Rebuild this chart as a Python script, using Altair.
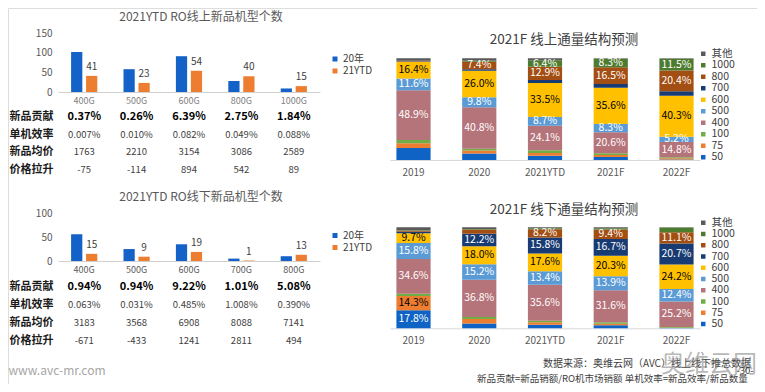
import altair as alt
import pandas as pd

FONT = "Noto Sans CJK SC"
W, H = 749, 376

# ---------------- data: left panels ----------------
series_names = ["20年", "21YTD"]
series_colors = ["#1462C8", "#ED7D31"]
table_rows = ["新品贡献", "单机效率", "新品均价", "价格拉升"]

online_title_left = "2021YTD RO线上新品机型个数"
online_models = ["400G", "500G", "600G", "800G", "1000G"]
online_count_20 = [102, 58, 91, 28, 9]
online_count_21 = [41, 23, 54, 40, 15]
online_contrib = ["0.37%", "0.26%", "6.39%", "2.75%", "1.84%"]
online_eff = ["0.007%", "0.010%", "0.082%", "0.049%", "0.088%"]
online_price = ["1763", "2210", "3154", "3086", "2589"]
online_lift = ["-75", "-114", "894", "542", "89"]

offline_title_left = "2021YTD RO线下新品机型个数"
offline_models = ["400G", "500G", "600G", "700G", "800G"]
offline_count_20 = [56, 25, 35, 5, 10]
offline_count_21 = [15, 9, 19, 1, 13]
offline_contrib = ["0.94%", "0.94%", "9.22%", "1.01%", "5.08%"]
offline_eff = ["0.063%", "0.031%", "0.485%", "1.008%", "0.390%"]
offline_price = ["3183", "3568", "6908", "8088", "7141"]
offline_lift = ["-671", "-433", "1241", "2811", "494"]

# ---------------- data: right panels ----------------
online_title_right = "2021F  线上通量结构预测"
offline_title_right = "2021F  线下通量结构预测"
years = ["2019", "2020", "2021YTD", "2021F", "2022F"]
segments = ["50", "75", "100", "400", "500", "600", "700", "800", "1000", "其他"]
segment_colors = ["#0E63C4", "#ED7D31", "#70AD47", "#B5737A", "#5B9BD5",
                  "#FFC000", "#173B72", "#A34E12", "#4E7C2F", "#595959"]

on_50 = [11.8, 6.5, 4.3, 3.0, 0.4]
on_75 = [4.6, 2.8, 2.7, 1.8, 1.2]
on_100 = [3.3, 1.8, 2.5, 1.8, 1.2]
on_400 = [48.9, 40.8, 24.1, 20.6, 14.8]
on_500 = [11.6, 9.8, 8.7, 8.3, 5.2]
on_600 = [16.4, 26.0, 33.5, 35.6, 40.3]
on_700 = [0.5, 1.6, 2.9, 3.6, 4.5]
on_800 = [0.5, 7.4, 12.9, 16.5, 20.4]
on_1000 = [0.0, 1.0, 6.4, 8.3, 11.5]
on_other = [2.4, 2.3, 2.0, 0.5, 0.5]

off_50 = [17.8, 4.8, 3.5, 3.0, 0.3]
off_75 = [14.3, 4.5, 2.5, 1.5, 0.3]
off_100 = [2.0, 2.0, 1.5, 1.5, 0.8]
off_400 = [34.6, 36.8, 35.6, 31.6, 25.2]
off_500 = [15.8, 15.2, 13.4, 13.9, 12.4]
off_600 = [9.7, 18.0, 17.6, 20.3, 24.2]
off_700 = [1.5, 12.2, 15.8, 16.7, 20.7]
off_800 = [0.8, 4.3, 8.2, 9.4, 11.1]
off_1000 = [0.5, 0.5, 0.9, 1.1, 4.8]
off_other = [3.0, 1.7, 1.0, 1.0, 0.2]

online_labelled = ["400", "500", "600", "700", "800", "1000"]
offline_labelled = segments
dark_text_segments = ["600", "75"]

footer_site = "www.avc-mr.com"
footer_source = "数据来源：奥维云网（AVC）线上线下推总数据"
footer_note = "新品贡献=新品销额/RO机市场销额   单机效率=新品效率/新品数量"
footer_page = "-30-"
footer_mark = "奥维云网"


def text_layer(txt, x, y, size, color, align="center", weight="normal", opacity=1.0,
               baseline="middle"):
    return alt.Chart(pd.DataFrame({"t": [txt]})).mark_text(
        align=align, baseline=baseline, fontSize=size, color=color,
        font=FONT, fontWeight=weight, opacity=opacity
    ).encode(x=alt.value(x), y=alt.value(y), text="t:N")


def bar_panel(models, v20, v21, x_rng, y_dom, y_rng, y_ticks, xlab_color, legend_y):
    n = len(models)
    df = pd.DataFrame({"model": models * 2,
                       "series": [series_names[0]] * n + [series_names[1]] * n,
                       "count": v20 + v21})
    xs = alt.Scale(type="band", domain=models, range=x_rng, paddingInner=0.5, paddingOuter=0.25)
    ys = alt.Scale(domain=y_dom, range=y_rng)
    os_ = alt.Scale(type="band", domain=series_names, paddingInner=0.25)
    cs = alt.Scale(domain=series_names, range=series_colors)
    bars = alt.Chart(df).mark_bar().encode(
        x=alt.X("model:N", scale=xs, title=None,
                axis=alt.Axis(orient="bottom", offset=y_rng[0] - H, domainColor="#D0D0D0",
                              ticks=False, labelPadding=4, labelFontSize=9, labelAngle=0,
                              labelColor=xlab_color, labelFont=FONT, grid=False)),
        xOffset=alt.XOffset("series:N", scale=os_),
        y=alt.Y("count:Q", scale=ys, title=None,
                axis=alt.Axis(orient="left", offset=-x_rng[0], values=y_ticks, domain=False,
                              ticks=False, grid=False, labelPadding=6, labelFontSize=10,
                              labelColor="#595959", labelFont=FONT)),
        color=alt.Color("series:N", scale=cs, title=None,
                        legend=alt.Legend(orient="none", legendX=322, legendY=legend_y,
                                          symbolType="square", symbolSize=25,
                                          symbolStrokeWidth=0, labelFontSize=10,
                                          labelColor="#404040", labelFont=FONT,
                                          rowPadding=2, labelOffset=3)),
    )
    labels = alt.Chart(df).transform_filter(
        alt.datum.series == series_names[1]
    ).mark_text(dy=-9, fontSize=10, color="#404040", font=FONT).encode(
        x=alt.X("model:N", scale=xs, axis=None),
        xOffset=alt.XOffset("series:N", scale=os_),
        y=alt.Y("count:Q", scale=ys, axis=None),
        text="count:Q",
    )
    return [bars, labels], xs


def table_panel(models, xs, x_left, rows_vals, y_rng):
    recs = []
    for r, vals in zip(table_rows, rows_vals):
        for m, v in zip(models, vals):
            recs.append({"model": m, "row": r, "val": v})
    df = pd.DataFrame(recs)
    ts = alt.Scale(type="band", domain=table_rows, range=y_rng, paddingInner=0, paddingOuter=0)
    head = alt.Chart(df).transform_filter(alt.datum.row == table_rows[0]).mark_text(
        fontSize=11, fontWeight="bold", color="#000000", font=FONT
    ).encode(
        x=alt.X("model:N", scale=xs, axis=None),
        y=alt.Y("row:N", scale=ts, title=None,
                axis=alt.Axis(orient="left", offset=-x_left, domain=False, ticks=False,
                              grid=False, labelPadding=5, labelFontSize=11,
                              labelFontWeight="bold", labelColor="#1A1A1A", labelFont=FONT)),
        text="val:N",
    )
    rest = alt.Chart(df).transform_filter(alt.datum.row != table_rows[0]).mark_text(
        fontSize=9.5, color="#404040", font=FONT
    ).encode(
        x=alt.X("model:N", scale=xs, axis=None),
        y=alt.Y("row:N", scale=ts, axis=None),
        text="val:N",
    )
    return [head, rest]


def stack_panel(cols, labelled, x_rng, y_rng, legend_y, row_pad):
    recs = []
    for k, seg in enumerate(segments):
        for yi, yr in enumerate(years):
            v = cols[k][yi]
            show = seg in labelled and v >= 5
            recs.append({"year": yr, "seg": seg, "val": v, "ord": k,
                         "label": f"{v:.1f}%" if show else "",
                         "dark": seg in dark_text_segments})
    df = pd.DataFrame(recs)
    xs = alt.Scale(type="band", domain=years, range=x_rng, paddingInner=0.48, paddingOuter=0.0975)
    ys = alt.Scale(domain=[0, 100], range=y_rng)
    cs = alt.Scale(domain=segments[::-1], range=segment_colors[::-1])
    bars = alt.Chart(df).mark_bar().encode(
        x=alt.X("year:N", scale=xs, title=None,
                axis=alt.Axis(orient="bottom", offset=y_rng[0] - H, domainColor="#D9D9D9",
                              ticks=False, labelPadding=7, labelFontSize=10, labelAngle=0,
                              labelColor="#595959", labelFont=FONT, grid=False)),
        y=alt.Y("val:Q", scale=ys, stack="zero", axis=None),
        color=alt.Color("seg:N", scale=cs, title=None,
                        legend=alt.Legend(orient="none", legendX=690, legendY=legend_y,
                                          symbolType="square", symbolSize=20,
                                          symbolStrokeWidth=0, labelFontSize=10.5,
                                          labelColor="#404040", labelFont=FONT,
                                          rowPadding=row_pad, labelOffset=3)),
        order=alt.Order("ord:Q", sort="ascending"),
    )
    base = alt.Chart(df).transform_stack(
        stack="val", groupby=["year"], sort=[alt.SortField(field="ord", order="ascending")],
        as_=["v0", "v1"]
    ).transform_calculate(mid="(datum.v0 + datum.v1) / 2").transform_filter(
        "datum.label != ''"
    )
    enc = dict(x=alt.X("year:N", scale=xs, axis=None, bandPosition=0.5),
               y=alt.Y("mid:Q", scale=ys, axis=None),
               text="label:N")
    light = base.transform_filter("!datum.dark").mark_text(
        fontSize=10.5, font=FONT, color="#FFFFFF", align="center").encode(**enc)
    dark = base.transform_filter("datum.dark").mark_text(
        fontSize=10.5, font=FONT, color="#000000", align="center").encode(**enc)
    return [bars], [light, dark]


layers = []
late = []

# left top
l1, xs1 = bar_panel(online_models, online_count_20, online_count_21,
                    [50, 312], [0, 150], [84, 25], [0, 50, 100, 150], "#808080", 46)
layers += l1
layers += table_panel(online_models, xs1, 50,
                      [online_contrib, online_eff, online_price, online_lift], [100, 171])
layers.append(text_layer(online_title_left, 193, 8.5, 12, "#595959"))

# left bottom
l2, xs2 = bar_panel(offline_models, offline_count_20, offline_count_21,
                    [50, 312], [0, 100], [253, 205.2], [0, 50, 100], "#595959", 222.5)
layers += l2
layers += table_panel(offline_models, xs2, 50,
                      [offline_contrib, offline_eff, offline_price, offline_lift], [269.6, 342.1])
layers.append(text_layer(offline_title_left, 193, 189, 12, "#595959"))

# right top
b, t = stack_panel([on_50, on_75, on_100, on_400, on_500, on_600, on_700, on_800, on_1000, on_other],
                   online_labelled, [382, 692], [152, 50.3], 40.5, 0.5)
layers += b
late += t
layers.append(text_layer(online_title_right, 556, 32, 13.5, "#404040"))

# right bottom
b, t = stack_panel([off_50, off_75, off_100, off_400, off_500, off_600, off_700, off_800, off_1000, off_other],
                   offline_labelled, [382, 692], [320.3, 219.3], 209.5, 0.25)
layers += b
late += t
layers.append(text_layer(offline_title_right, 556, 202, 13.5, "#404040"))

# footer
layers.append(text_layer(footer_site, 0.5, 362.7, 12, "#A6A6A6", align="left"))
layers.append(text_layer(footer_source, 535, 356, 10, "#404040", align="left"))
layers.append(text_layer(footer_note, 469, 376, 9.5, "#404040", align="left", baseline="bottom"))
layers.append(text_layer(footer_mark, 701, 357, 24, "#7F7F7F", opacity=0.55))
layers.append(text_layer(footer_page, 737, 363, 9.5, "#404040"))

layers += late

chart = alt.layer(*layers).resolve_scale(
    x="independent", y="independent", color="independent", xOffset="independent"
).properties(
    width=W, height=H, padding=0, autosize=alt.AutoSizeParams(type="none")
).configure_view(strokeWidth=0).configure(background="white")

chart.save("out.html", embed_options={"renderer": "svg", "actions": False})
